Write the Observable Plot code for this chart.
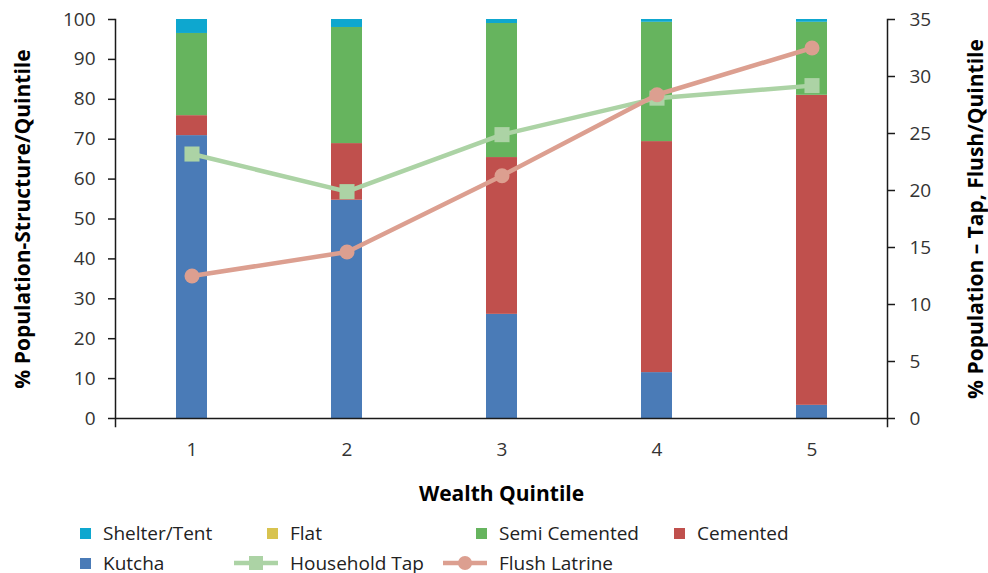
<!DOCTYPE html>
<html>
<head>
<meta charset="utf-8">
<script src="https://cdn.jsdelivr.net/npm/d3@7"></script>
<script src="https://cdn.jsdelivr.net/npm/@observablehq/plot@0.6"></script>
<style>
  body { margin: 0; background: #fff; font-family: "Open Sans", sans-serif; }
  #legend { display: grid; grid-template-columns: 187px 209px 198px 200px; padding-left: 45px; padding-top: 6px; }
  .item { display: flex; align-items: center; height: 30px; font-size: 19px; color: #222; white-space: nowrap; }
  .mk { width: 46px; display: flex; justify-content: flex-end; align-items: center; margin-right: 12px; }
  .sw { width: 11px; height: 11px; }
</style>
</head>
<body>
<div id="chart"></div>
<div id="legend"></div>
<script>
// Wealth quintiles (x categories)
const quintiles = ["1", "2", "3", "4", "5"];

// Housing structure shares (% of population in each quintile), stacked bottom to top
const structures = ["Kutcha", "Cemented", "Semi Cemented", "Flat", "Shelter/Tent"];
const kutcha       = [70.9, 54.7, 26.1, 11.5, 3.3];
const cemented     = [5.0, 14.2, 39.3, 57.9, 77.7];
const semiCemented = [20.6, 29.1, 33.6, 29.9, 18.3];
const flat         = [0, 0, 0, 0, 0];
const shelterTent  = [3.5, 2.0, 1.0, 0.7, 0.7];
const structureColors = ["#4a7bb7", "#c0504d", "#66b45e", "#d8c34f", "#0ea7cf"];

// Amenities (% of population, right axis)
const householdTap = [23.2, 19.9, 24.9, 28.1, 29.2];
const flushLatrine = [12.5, 14.6, 21.3, 28.4, 32.5];
const tapColor = "#acd3a5";
const flushColor = "#dc9f90";

// Axis ticks
const leftTicks  = [0, 10, 20, 30, 40, 50, 60, 70, 80, 90, 100];
const rightTicks = [0, 5, 10, 15, 20, 25, 30, 35];
const rightMax = 35;
const toLeft = v => v * 100 / rightMax;

// Long-format table for the stacked bars
const seriesValues = [kutcha, cemented, semiCemented, flat, shelterTent];
const stackRows = structures.flatMap((s, i) =>
  quintiles.map((q, j) => ({quintile: q, structure: s, value: seriesValues[i][j]})));
const tapRows = quintiles.map((q, j) => ({quintile: q, value: householdTap[j]}));
const flushRows = quintiles.map((q, j) => ({quintile: q, value: flushLatrine[j]}));

const ink = "#1a1a1a";
const titleStyle = {text: d => d, fontWeight: "bold", fontSize: 21, fill: "#000", textAnchor: "middle", lineAnchor: "middle"};
const chart = Plot.plot({
  width: 988,
  height: 512,
  marginTop: 19,
  marginBottom: 94,
  marginLeft: 115,
  marginRight: 101,
  style: {fontFamily: '"Open Sans", sans-serif', fontSize: "19px", background: "#fff", overflow: "visible"},
  x: {domain: quintiles, paddingInner: 0.8, paddingOuter: 0.39, axis: null},
  y: {domain: [0, 100], axis: null},
  color: {domain: structures, range: structureColors},
  marks: [
    Plot.barY(stackRows, {x: "quintile", y: "value", fill: "structure"}),
    Plot.frame({anchor: "left", stroke: ink, strokeWidth: 1.5, insetBottom: -8}),
    Plot.frame({anchor: "right", stroke: ink, strokeWidth: 1.5, insetBottom: -8}),
    Plot.ruleY([0], {stroke: ink, strokeWidth: 1.5}),
    Plot.axisY(leftTicks, {anchor: "left", label: null, tickSize: 7, tickPadding: 13, stroke: ink, strokeWidth: 1.5, fill: "#333"}),
    Plot.axisY(rightTicks.map(toLeft), {anchor: "right", label: null, tickSize: 7, tickPadding: 15, stroke: ink, strokeWidth: 1.5, fill: "#333",
      tickFormat: d => String(Math.round(d * rightMax / 100))}),
    Plot.axisX({label: null, tickSize: 0, tickPadding: 24, fill: "#333"}),
    Plot.line(tapRows, {x: "quintile", y: d => toLeft(d.value), stroke: tapColor, strokeWidth: 4.5}),
    Plot.dot(tapRows, {x: "quintile", y: d => toLeft(d.value), symbol: "square", r: 8.5, fill: tapColor}),
    Plot.line(flushRows, {x: "quintile", y: d => toLeft(d.value), stroke: flushColor, strokeWidth: 4.5}),
    Plot.dot(flushRows, {x: "quintile", y: d => toLeft(d.value), r: 7.5, fill: flushColor}),
    Plot.text(["Wealth Quintile"], {...titleStyle, frameAnchor: "bottom", dy: 76}),
    Plot.text(["% Population-Structure/Quintile"], {...titleStyle, frameAnchor: "left", dx: -92, rotate: -90}),
    Plot.text(["% Population \u2013 Tap, Flush/Quintile"], {...titleStyle, frameAnchor: "right", dx: 89, rotate: -90})
  ]
});
document.getElementById("chart").append(chart);

// Legend: structure swatches, then the two amenity lines with their markers
const legendItems = [
  {label: "Shelter/Tent", type: "swatch", color: structureColors[4]},
  {label: "Flat", type: "swatch", color: structureColors[3]},
  {label: "Semi Cemented", type: "swatch", color: structureColors[2]},
  {label: "Cemented", type: "swatch", color: structureColors[1]},
  {label: "Kutcha", type: "swatch", color: structureColors[0]},
  {label: "Household Tap", type: "square", color: tapColor},
  {label: "Flush Latrine", type: "circle", color: flushColor}
];
const legend = d3.select("#legend");
for (const it of legendItems) {
  const item = legend.append("div").attr("class", "item");
  const mk = item.append("div").attr("class", "mk");
  if (it.type === "swatch") {
    mk.append("div").attr("class", "sw").style("background", it.color);
  } else {
    const svg = mk.append("svg").attr("width", 44).attr("height", 16);
    svg.append("line").attr("x1", 0).attr("x2", 44).attr("y1", 8).attr("y2", 8)
      .attr("stroke", it.color).attr("stroke-width", 4.5);
    if (it.type === "square") {
      svg.append("rect").attr("x", 15).attr("y", 1).attr("width", 14).attr("height", 14).attr("fill", it.color);
    } else {
      svg.append("circle").attr("cx", 22).attr("cy", 8).attr("r", 7).attr("fill", it.color);
    }
  }
  item.append("span").text(it.label);
}
</script>
</body>
</html>
